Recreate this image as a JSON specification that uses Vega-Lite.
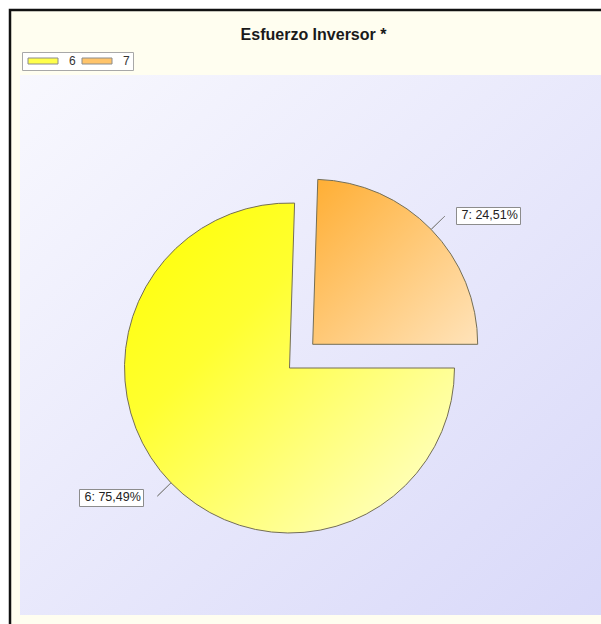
{
  "$schema": "https://vega.github.io/schema/vega-lite/v6.json",
  "width": 593,
  "height": 616,
  "autosize": {"type": "none"},
  "padding": {"left": 10, "top": 10, "right": -2, "bottom": -2},
  "background": "#ffffff",
  "view": {"fill": "#fffef0", "stroke": "#111111", "strokeWidth": 2.5},
  "title": {
    "text": "Esfuerzo Inversor *",
    "font": "Liberation Sans",
    "fontSize": 16,
    "fontWeight": "bold",
    "color": "#1a1a1a",
    "anchor": "middle",
    "offset": -33,
    "dx": 7
  },
  "data": {
    "values": [
      {"cat": "6", "pct": 75.49, "lab": "6: 75,49%"},
      {"cat": "7", "pct": 24.51, "lab": "7: 24,51%"}
    ]
  },
  "transform": [
    {"stack": "pct", "groupby": [], "sort": [{"field": "cat", "order": "ascending"}], "as": ["t0", "t1"]},
    {"calculate": "(datum.t0 + datum.t1) / 2", "as": "mid"}
  ],
  "layer": [
    {
      "data": {"values": [{"panel": 1}]},
      "mark": {
        "type": "rect",
        "x": 10,
        "y": 65,
        "x2": {"expr": "width"},
        "y2": 605,
        "fill": {
          "gradient": "linear",
          "x1": 0, "y1": 0, "x2": 1, "y2": 1,
          "stops": [
            {"offset": 0, "color": "#f8f8fe"},
            {"offset": 1, "color": "#d9d9f9"}
          ]
        }
      },
      "encoding": {}
    },
    {
      "mark": {"type": "arc", "radius": 0, "x": 279.5, "y": 358},
      "encoding": {
        "theta": {"field": "t0", "type": "quantitative", "scale": {"domain": [0, 100], "range": [1.5708, 7.854]}},
        "theta2": {"field": "t1"},
        "color": {
          "field": "cat",
          "type": "nominal",
          "scale": {"domain": ["6", "7"], "range": ["#ffff4a", "#ffc46a"]},
          "legend": {
            "orient": "none",
            "legendX": 12,
            "legendY": 42,
            "direction": "horizontal",
            "title": null,
            "symbolType": "M-1,-1H9V1H-1Z",
            "symbolSize": 36,
            "symbolStrokeColor": "#8c8c8c",
            "symbolStrokeWidth": 1,
            "symbolOpacity": 1,
            "labelFont": "Liberation Sans",
            "labelFontSize": 12,
            "labelColor": "#333333",
            "labelOffset": 32,
            "columnPadding": 3,
            "padding": 3,
            "strokeColor": "#a8a8a8",
            "fillColor": "#ffffff"
          }
        }
      }
    },
    {
      "transform": [{"filter": "datum.cat === '6'"}],
      "mark": {
        "type": "arc", "x": 279.5, "y": 358, "radius": 165, "stroke": "#746e55", "strokeWidth": 1,
        "fill": {"gradient": "linear", "x1": 0, "y1": 0, "x2": 1, "y2": 1, "stops": [{"offset": 0, "color": "#ffff00"}, {"offset": 0.35, "color": "#ffff30"}, {"offset": 1, "color": "#ffffd6"}]}
      },
      "encoding": {
        "theta": {"field": "t0", "type": "quantitative", "scale": {"domain": [0, 100], "range": [1.5708, 7.854]}},
        "theta2": {"field": "t1"}
      }
    },
    {
      "transform": [{"filter": "datum.cat === '7'"}],
      "mark": {
        "type": "arc", "x": 302.7, "y": 334.3, "radius": 165, "stroke": "#746e55", "strokeWidth": 1,
        "fill": {"gradient": "linear", "x1": 0, "y1": 0, "x2": 1, "y2": 1, "stops": [{"offset": 0, "color": "#ffae33"}, {"offset": 1, "color": "#ffe3ba"}]}
      },
      "encoding": {
        "theta": {"field": "t0", "type": "quantitative", "scale": {"domain": [0, 100], "range": [1.5708, 7.854]}},
        "theta2": {"field": "t1"}
      }
    },
    {
      "transform": [{"filter": "datum.cat === '6'"}],
      "mark": {"type": "arc", "x": 279.5, "y": 358, "radius": 184, "radius2": 165, "strokeWidth": 1, "fill": null},
      "encoding": {
        "theta": {"field": "mid", "type": "quantitative", "scale": {"domain": [0, 100], "range": [1.5708, 7.854]}},
        "theta2": {"field": "mid"},
        "stroke": {
          "field": "lab",
          "type": "nominal",
          "scale": {"range": ["#8a8a8a"]},
          "legend": {
            "orient": "none",
            "legendX": 69,
            "legendY": 479,
            "title": null,
            "symbolSize": 0.01,
            "symbolOpacity": 0,
            "symbolStrokeWidth": 0,
            "labelOffset": -9,
            "labelFont": "Liberation Sans",
            "labelFontSize": 12.5,
            "labelColor": "#222222",
            "padding": 2,
            "strokeColor": "#8c8c8c",
            "fillColor": "#ffffff"
          }
        }
      }
    },
    {
      "transform": [{"filter": "datum.cat === '7'"}],
      "mark": {"type": "arc", "x": 302.7, "y": 334.3, "radius": 184, "radius2": 165, "strokeWidth": 1, "fill": null},
      "encoding": {
        "theta": {"field": "mid", "type": "quantitative", "scale": {"domain": [0, 100], "range": [1.5708, 7.854]}},
        "theta2": {"field": "mid"},
        "stroke": {
          "field": "lab",
          "type": "nominal",
          "scale": {"range": ["#8a8a8a"]},
          "legend": {
            "orient": "none",
            "legendX": 446,
            "legendY": 197,
            "title": null,
            "symbolSize": 0.01,
            "symbolOpacity": 0,
            "symbolStrokeWidth": 0,
            "labelOffset": -9,
            "labelFont": "Liberation Sans",
            "labelFontSize": 12.5,
            "labelColor": "#222222",
            "padding": 2,
            "strokeColor": "#8c8c8c",
            "fillColor": "#ffffff"
          }
        }
      }
    }
  ],
  "resolve": {
    "scale": {"stroke": "independent"},
    "legend": {"stroke": "independent"}
  }
}
